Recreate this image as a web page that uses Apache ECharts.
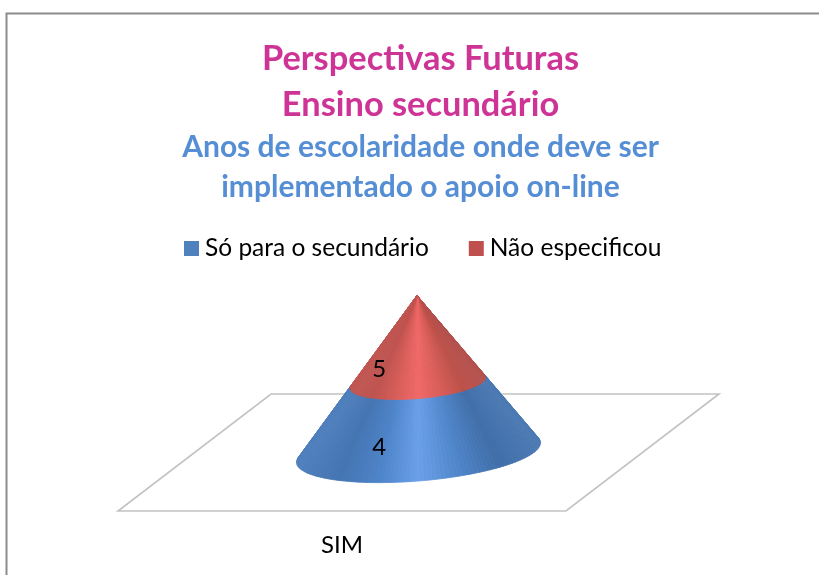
<!DOCTYPE html>
<html>
<head>
<meta charset="utf-8">
<style>html,body{margin:0;padding:0;background:#fff}#c{width:819px;height:575px}</style>
<script src="https://cdn.jsdelivr.net/npm/echarts@6/dist/echarts.min.js"></script>
</head>
<body>
<div id="c"></div>
<script>
var categories = ['SIM'];
var seriesNames = ['Só para o secundário', 'Não especificou'];
var valuesSecundario = [4];
var valuesNaoEspecificou = [5];
var titleLines = ['Perspectivas Futuras', 'Ensino secundário', 'Anos de escolaridade onde deve ser', 'implementado o apoio on-line'];

// oblique projection of the chart floor: half-depth vector, and cone radius as a floor fraction
var depth = [76.5, -58.5];
var radiusFraction = 0.515;
var apexLean = -1.5;
var SLICES = 96;

var ramps = {
  blue: [[0,[78,126,188]],[0.16,[68,116,178]],[0.32,[76,130,198]],[0.5,[106,160,232]],[0.68,[78,132,200]],[0.84,[64,110,168]],[1,[74,120,178]]],
  red:  [[0,[192,86,82]],[0.16,[190,82,78]],[0.32,[214,92,88]],[0.5,[240,104,104]],[0.68,[216,92,88]],[0.84,[188,80,72]],[1,[180,82,78]]]
};
function shade(ramp, u) {
  for (var i = 1; i < ramp.length; i++) {
    if (u <= ramp[i][0]) {
      var a = ramp[i-1], b = ramp[i], k = (u - a[0]) / (b[0] - a[0]);
      return 'rgb(' + [0,1,2].map(function (j) { return Math.round(a[1][j] + (b[1][j] - a[1][j]) * k); }).join(',') + ')';
    }
  }
  return 'rgb(' + ramp[ramp.length-1][1].join(',') + ')';
}

function coneFrame(api, catIndex, total) {
  var origin = api.coord([catIndex, 0]);
  var halfWidth = api.size([1, 0])[0] / 2;
  var C = [origin[0] + depth[0], origin[1] + depth[1]];
  var A = [C[0] + apexLean, api.coord([catIndex, total])[1] + depth[1]];
  var ux = radiusFraction * halfWidth;
  var vx = radiusFraction * depth[0], vy = radiusFraction * depth[1];
  // tangent parameters of the silhouette seen from the apex
  var q = (A[1] - C[1]) / vy;
  var p = (A[0] - C[0] - vx * q) / ux;
  var base = Math.atan2(q, p), spread = Math.acos(1 / Math.sqrt(p * p + q * q));
  return { C: C, A: A, ux: ux, vx: vx, vy: vy, t0: base - spread, t1: base + spread };
}
function rim(f, t, s) {
  // point on the cone at angle t, s = height fraction (0 base .. 1 apex)
  var x = f.C[0] + f.ux * Math.cos(t) + f.vx * Math.sin(t);
  var y = f.C[1] + f.vy * Math.sin(t);
  return [x + (f.A[0] - x) * s, y + (f.A[1] - y) * s];
}

function bandRenderer(valuesList, lowerList, rampName) {
  return function (params, api) {
    var i = api.value(0);
    var lo = lowerList[i], hi = lo + valuesList[i];
    var total = valuesSecundario[i] + valuesNaoEspecificou[i];
    var f = coneFrame(api, i, total);
    var s0 = lo / total, s1 = hi / total;
    var tStart = f.t0, tEnd = f.t1 - 2 * Math.PI; // front arc, going through t = -90deg
    if (tEnd > tStart) tEnd -= 2 * Math.PI;
    var kids = [];
    var xl = rim(f, tStart, 0)[0], xr = rim(f, tEnd, 0)[0];
    for (var n = 0; n < SLICES; n++) {
      var a = tStart + (tEnd - tStart) * n / SLICES;
      var b = tStart + (tEnd - tStart) * (n + 1) / SLICES;
      var mid = (a + b) / 2;
      var u = (rim(f, mid, 0)[0] - Math.min(xl, xr)) / Math.abs(xr - xl);
      var col = shade(ramps[rampName], u);
      kids.push({
        type: 'polygon',
        shape: { points: [rim(f, a, s0), rim(f, b, s0), rim(f, b, s1), rim(f, a, s1)] },
        style: { fill: col, stroke: col, lineWidth: 0.8 }
      });
    }
    var labelPos = [f.C[0] - f.vx, f.C[1] - f.vy];
    var midY = api.coord([i, (lo + hi) / 2])[1] + depth[1] + (labelPos[1] - f.C[1]);
    kids.push({
      type: 'text',
      z2: 10,
      style: {
        text: String(valuesList[i]), x: labelPos[0], y: midY,
        fill: '#000', font: '24px Lato', textAlign: 'center', textVerticalAlign: 'middle'
      }
    });
    return { type: 'group', children: kids };
  };
}

function floorRenderer(params, api) {
  var i = api.value(0);
  var o = api.coord([i, 0]);
  var hw = api.size([1, 0])[0] / 2;
  var d = [depth[0] * 2, depth[1] * 2];
  return {
    type: 'polygon',
    shape: { points: [[o[0]-hw,o[1]], [o[0]+hw,o[1]], [o[0]+hw+d[0],o[1]+d[1]], [o[0]-hw+d[0],o[1]+d[1]]] },
    style: { fill: '#fff', stroke: '#c2c2c2', lineWidth: 1.6 }
  };
}

var titleTops = [37, 83, 127, 167];
var titleSizes = [34.4, 34.4, 30, 30];
var titleColors = ['#CE3396', '#CE3396', '#558ED5', '#558ED5'];

var option = {
  animation: false,
  backgroundColor: '#fff',
  title: titleLines.map(function (t, k) {
    return {
      text: t, left: 419 - 3.5, top: titleTops[k], textAlign: 'center',
      textStyle: { color: titleColors[k], fontFamily: 'Lato', fontWeight: 'bold', fontSize: titleSizes[k] }
    };
  }),
  legend: {
    data: seriesNames.map(function (n) { return { name: n, icon: 'rect' }; }),
    left: 179, top: 231, itemWidth: 15, itemHeight: 15, itemGap: 40,
    textStyle: { color: '#000', fontFamily: 'Lato', fontSize: 24.5, padding: [0, 0, 0, 1] }
  },
  grid: { left: 118, width: 448, top: 354, height: 157 },
  xAxis: {
    type: 'category', data: categories,
    axisLine: { show: false }, axisTick: { show: false },
    axisLabel: { color: '#000', fontFamily: 'Lato', fontSize: 24, margin: 22 }
  },
  yAxis: { type: 'value', min: 0, max: 9, interval: 3, show: false },
  series: [
    { type: 'custom', name: 'floor', silent: true, data: [[0]], renderItem: floorRenderer, encode: { x: 0 }, z: 1 },
    { type: 'custom', name: seriesNames[0], color: '#4F81BD', itemStyle: { color: '#4F81BD' }, z: 2,
      data: categories.map(function (c, k) { return [k, valuesSecundario[k]]; }), encode: { x: 0, y: 1 },
      renderItem: bandRenderer(valuesSecundario, categories.map(function () { return 0; }), 'blue') },
    { type: 'custom', name: seriesNames[1], color: '#C0504D', itemStyle: { color: '#C0504D' }, z: 3,
      data: categories.map(function (c, k) { return [k, valuesNaoEspecificou[k]]; }), encode: { x: 0, y: 1 },
      renderItem: bandRenderer(valuesNaoEspecificou, valuesSecundario, 'red') }
  ],
  graphic: [{
    type: 'polyline', silent: true,
    shape: { points: [[6.5, 575], [6.5, 13.5], [819, 13.5]] },
    style: { fill: 'none', stroke: '#8c8c8c', lineWidth: 2 }
  }]
};
echarts.init(document.getElementById('c')).setOption(option);
</script>
</body>
</html>
